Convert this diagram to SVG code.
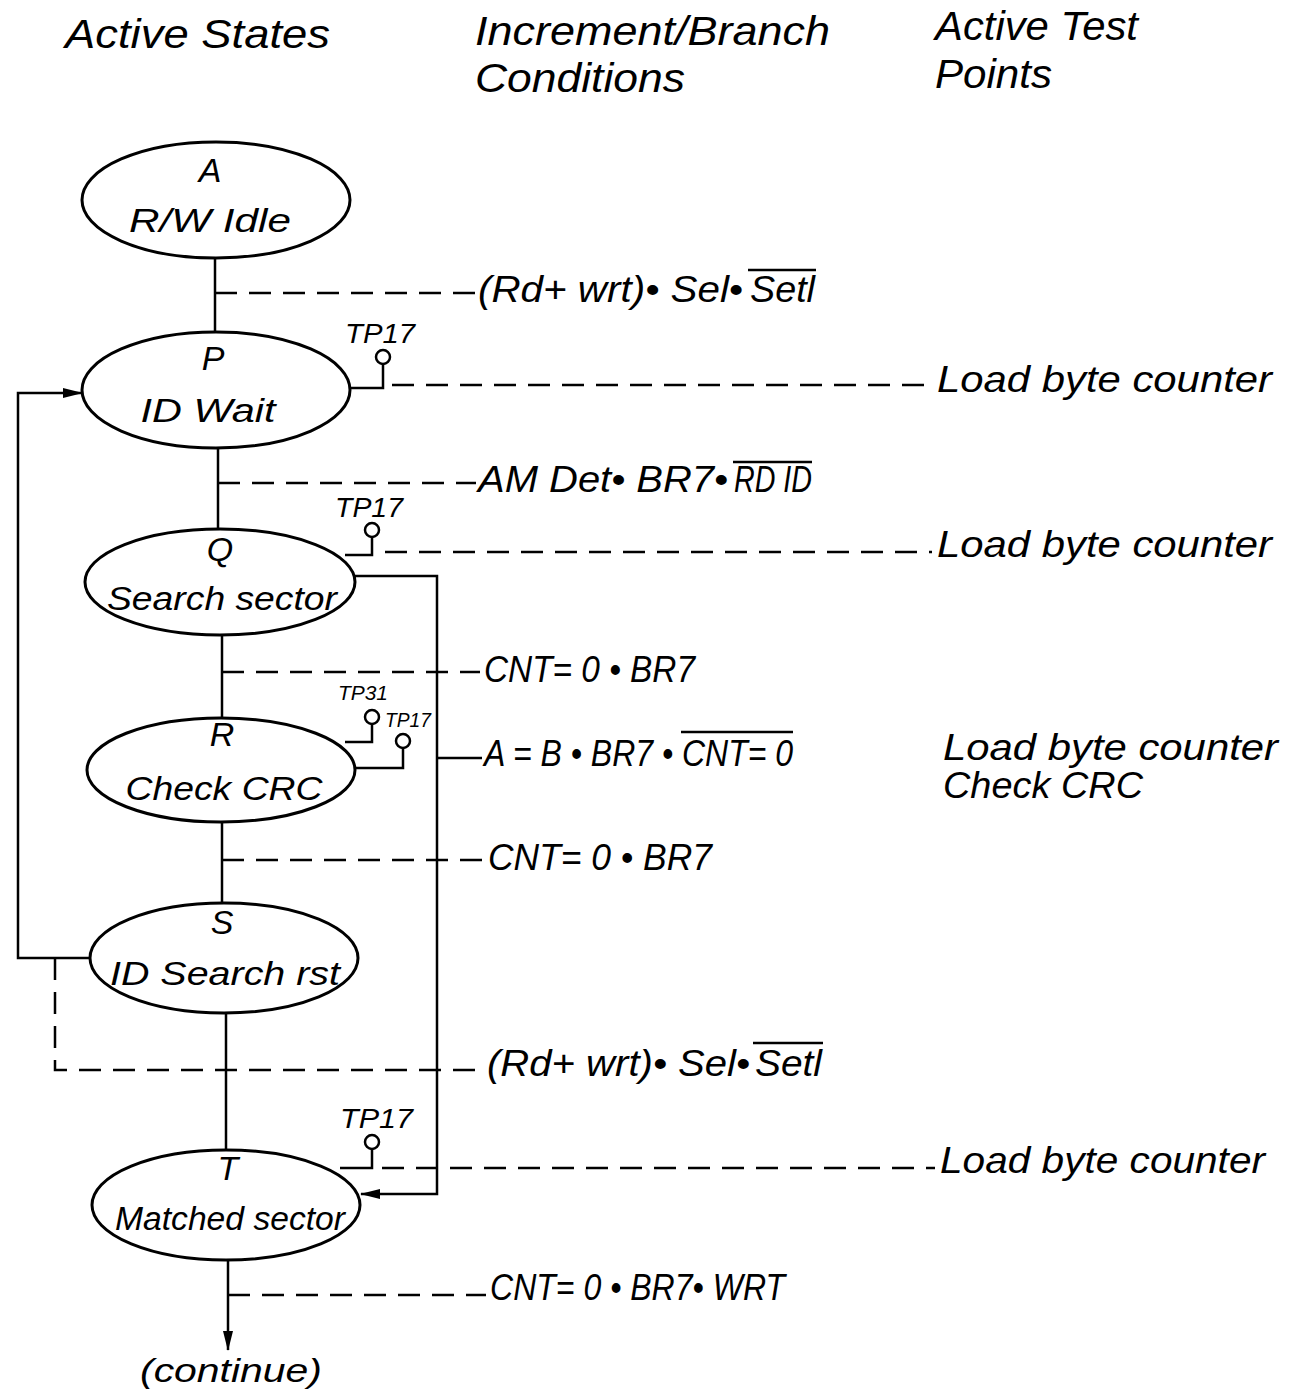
<svg xmlns="http://www.w3.org/2000/svg" width="1300" height="1392" viewBox="0 0 1300 1392">
<defs>
<style>
text{font-family:"Liberation Sans","DejaVu Sans",sans-serif;font-style:italic;fill:#000}
.h{font-size:40px}
.c{font-size:37px}
.n{font-size:34px;text-anchor:middle}
.tp{font-size:28px}
.tps{font-size:21px}
.s{stroke:#000;stroke-width:2.5;fill:none}
.d{stroke:#000;stroke-width:2.5;fill:none;stroke-dasharray:22 12}
.e{stroke:#000;stroke-width:3;fill:#fff}
.o{stroke:#000;stroke-width:2.5;fill:#fff}
</style>
<marker id="ah" markerWidth="20" markerHeight="12" refX="19" refY="6" orient="auto" markerUnits="userSpaceOnUse">
<path d="M0,1 L20,6 L0,11 Z" fill="#000"/>
</marker>
</defs>
<rect width="1300" height="1392" fill="#fff"/>

<g id="headers">
<text class="h" x="65" y="48" textLength="265" lengthAdjust="spacingAndGlyphs">Active States</text>
<text class="h" x="475" y="45" textLength="355" lengthAdjust="spacingAndGlyphs">Increment/Branch</text>
<text class="h" x="475" y="92" textLength="210" lengthAdjust="spacingAndGlyphs">Conditions</text>
<text class="h" x="935" y="40" textLength="203" lengthAdjust="spacingAndGlyphs">Active Test</text>
<text class="h" x="935" y="88" textLength="117" lengthAdjust="spacingAndGlyphs">Points</text>
</g>

<g id="connectors">
<line class="s" x1="215" y1="258" x2="215" y2="333"/>
<line class="s" x1="218" y1="448" x2="218" y2="530"/>
<line class="s" x1="222" y1="635" x2="222" y2="718"/>
<line class="s" x1="222" y1="822" x2="222" y2="902"/>
<line class="s" x1="226" y1="1012" x2="226" y2="1150"/>
<line class="s" x1="228" y1="1260" x2="228" y2="1350" marker-end="url(#ah)"/>
<polyline class="s" points="90,958 18,958 18,393 82,393" marker-end="url(#ah)"/>
<polyline class="s" points="350,576 437,576 437,1194 361,1194" marker-end="url(#ah)"/>
<line class="s" x1="437" y1="758" x2="482" y2="758"/>
<line class="d" x1="215" y1="293" x2="476" y2="293"/>
<line class="d" x1="218" y1="483" x2="476" y2="483"/>
<line class="d" x1="222" y1="672" x2="480" y2="672"/>
<line class="d" x1="222" y1="860" x2="482" y2="860"/>
<polyline class="d" points="55,958 55,1070 484,1070"/>
<line class="d" x1="228" y1="1295" x2="486" y2="1295"/>
<line class="d" x1="392" y1="385" x2="932" y2="385"/>
<line class="d" x1="385" y1="552" x2="932" y2="552"/>
<line class="d" x1="382" y1="1168" x2="935" y2="1168"/>
</g>

<g id="node-A">
<ellipse class="e" cx="216" cy="200" rx="134" ry="58"/>
<text class="n" x="210" y="182">A</text>
<text class="n" x="210" y="232" textLength="162" lengthAdjust="spacingAndGlyphs">R/W  Idle</text>
</g>

<g id="node-P">
<ellipse class="e" cx="216" cy="390" rx="134" ry="58"/>
<text class="n" x="213" y="370">P</text>
<text class="n" x="208" y="422" textLength="135" lengthAdjust="spacingAndGlyphs">ID  Wait</text>
<polyline class="s" points="350,388 383,388 383,364"/>
<circle class="o" cx="383" cy="357" r="7"/>
<text class="tp" x="345" y="343" textLength="70" lengthAdjust="spacingAndGlyphs">TP17</text>
</g>

<g id="node-Q">
<ellipse class="e" cx="220" cy="582" rx="135" ry="53"/>
<text class="n" x="220" y="561">Q</text>
<text class="n" x="222" y="610" textLength="230" lengthAdjust="spacingAndGlyphs">Search sector</text>
<polyline class="s" points="345,555 372,555 372,537"/>
<circle class="o" cx="372" cy="530" r="7"/>
<text class="tp" x="335" y="517" textLength="68" lengthAdjust="spacingAndGlyphs">TP17</text>
</g>

<g id="node-R">
<ellipse class="e" cx="221" cy="770" rx="134" ry="52"/>
<text class="n" x="222" y="746">R</text>
<text class="n" x="224" y="800" textLength="197" lengthAdjust="spacingAndGlyphs">Check  CRC</text>
<polyline class="s" points="345,742 372,742 372,724"/>
<circle class="o" cx="372" cy="717" r="7"/>
<text class="tps" x="338" y="700" textLength="50" lengthAdjust="spacingAndGlyphs">TP31</text>
<polyline class="s" points="355,768 403,768 403,748"/>
<circle class="o" cx="403" cy="741" r="7"/>
<text class="tps" x="385" y="727" textLength="46" lengthAdjust="spacingAndGlyphs">TP17</text>
</g>

<g id="node-S">
<ellipse class="e" cx="224" cy="958" rx="134" ry="55"/>
<text class="n" x="222" y="934">S</text>
<text class="n" x="225" y="985" textLength="230" lengthAdjust="spacingAndGlyphs">ID Search rst</text>
</g>

<g id="node-T">
<ellipse class="e" cx="226" cy="1205" rx="134" ry="55"/>
<text class="n" x="228" y="1180">T</text>
<text class="n" x="230" y="1230" textLength="230" lengthAdjust="spacingAndGlyphs">Matched sector</text>
<polyline class="s" points="340,1168 372,1168 372,1149"/>
<circle class="o" cx="372" cy="1142" r="7"/>
<text class="tp" x="340" y="1128" textLength="73" lengthAdjust="spacingAndGlyphs">TP17</text>
</g>

<g id="conditions">
<text class="c" x="478" y="302" textLength="265" lengthAdjust="spacingAndGlyphs">(Rd+ wrt)• Sel•</text>
<text class="c" x="750" y="302" textLength="65" lengthAdjust="spacingAndGlyphs">Setl</text>
<line class="s" x1="748" y1="270" x2="816" y2="270"/>
<text class="c" x="478" y="492" textLength="250" lengthAdjust="spacingAndGlyphs">AM Det• BR7•</text>
<text class="c" x="734" y="492" textLength="78" lengthAdjust="spacingAndGlyphs">RD ID</text>
<line class="s" x1="733" y1="462" x2="812" y2="462"/>
<text class="c" x="484" y="682" textLength="211" lengthAdjust="spacingAndGlyphs">CNT= 0 • BR7</text>
<text class="c" x="484" y="766" textLength="309" lengthAdjust="spacingAndGlyphs">A = B • BR7 • CNT= 0</text>
<line class="s" x1="681" y1="732" x2="793" y2="732"/>
<text class="c" x="488" y="870" textLength="224" lengthAdjust="spacingAndGlyphs">CNT= 0 • BR7</text>
<text class="c" x="487" y="1076" textLength="263" lengthAdjust="spacingAndGlyphs">(Rd+ wrt)• Sel•</text>
<text class="c" x="755" y="1076" textLength="67" lengthAdjust="spacingAndGlyphs">Setl</text>
<line class="s" x1="753" y1="1043" x2="823" y2="1043"/>
<text class="c" x="490" y="1300" textLength="295" lengthAdjust="spacingAndGlyphs">CNT= 0 • BR7• WRT</text>
<text class="n" x="231" y="1382" textLength="182" lengthAdjust="spacingAndGlyphs">(continue)</text>
</g>

<g id="test-points">
<text class="c" x="937" y="392" textLength="335" lengthAdjust="spacingAndGlyphs">Load byte counter</text>
<text class="c" x="937" y="557" textLength="335" lengthAdjust="spacingAndGlyphs">Load byte counter</text>
<text class="c" x="943" y="760" textLength="335" lengthAdjust="spacingAndGlyphs">Load byte counter</text>
<text class="c" x="943" y="798" textLength="200" lengthAdjust="spacingAndGlyphs">Check  CRC</text>
<text class="c" x="940" y="1173" textLength="325" lengthAdjust="spacingAndGlyphs">Load byte counter</text>
</g>
</svg>
